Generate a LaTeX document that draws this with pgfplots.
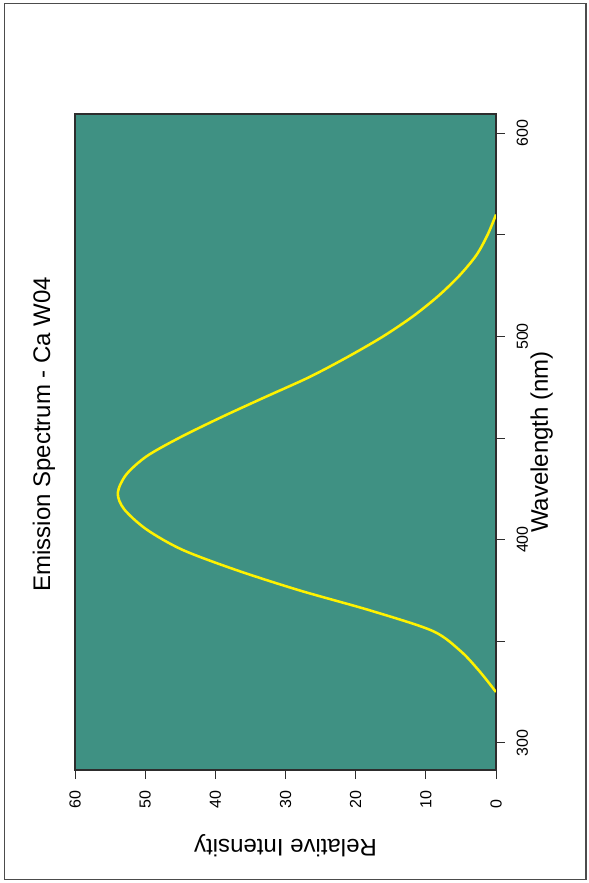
\documentclass[border=0pt]{standalone}
\usepackage{pgfplots}
\pgfplotsset{compat=1.18}
\usepackage{fontspec}
\setmainfont{Liberation Sans}
\definecolor{panel}{RGB}{63,145,131}
\definecolor{axgray}{RGB}{45,45,45}
\begin{document}
\begin{tikzpicture}
\useasboundingbox (0,0) rectangle (441.75pt,662.25pt);
\draw[line width=0.8pt, color=black!70] (3.4pt,2.4pt) rectangle (439.5pt,659.8pt);
\begin{axis}[
  at={(56.25pt,84.75pt)}, anchor=south west,
  scale only axis, width=315.75pt, height=492pt,
  x dir=reverse,
  xmin=0, xmax=60, ymin=286.6, ymax=609.5,
  axis background/.style={fill=panel},
  axis line style={axgray, line width=0.8pt},
  xtick={0,10,20,30,40,50,60},
  ytick={300,400,500,600},
  minor ytick={350,450,550},
  xtick pos=left, ytick pos=right,
  yticklabel pos=right,
  tick align=outside,
  major tick length=6.75pt, minor tick length=6.75pt,
  tick style={axgray, line width=0.6pt},
  /pgf/number format/assume math mode=true,
  ticklabel style={font=\fontsize{12}{14}\selectfont},
  xticklabel style={rotate=90, anchor=west, inner sep=0pt},
  yticklabel style={rotate=90, anchor=north, inner sep=0pt},
  xticklabel shift=22pt,
  yticklabel shift=8.6pt,
  title={Emission Spectrum - Ca W04},
  title style={at={([xshift=-18.6pt]axis description cs:0,0.5)}, rotate=90, anchor=base, inner sep=0pt, font=\fontsize{18}{22}\selectfont},
  xlabel={Relative Intensity},
  xlabel style={at={([yshift=-52.5pt]axis description cs:0.5,0)}, rotate=180, anchor=base, inner sep=0pt, font=\fontsize{18}{22}\selectfont},
  ylabel={Wavelength (nm)},
  ylabel style={at={([xshift=39pt]axis description cs:1,0.5)}, anchor=base, inner sep=0pt, font=\fontsize{18}{22}\selectfont},
]
\addplot[color=yellow, line width=1.9pt, smooth] coordinates {
(0,325)
(2.3,335)
(5.0,345)
(9.0,355)
(17.8,365)
(28.0,375)
(37.0,385)
(44.7,395)
(49.8,405)
(53.0,415)
(53.9,423)
(52.7,432)
(49.8,441)
(45.2,450)
(39.3,460)
(33.0,470)
(26.6,480)
(21.1,490)
(16.1,500)
(11.8,510)
(8.2,520)
(5.2,530)
(2.8,540)
(1.2,550)
(0,560)
};
\end{axis}
\end{tikzpicture}
\end{document}
